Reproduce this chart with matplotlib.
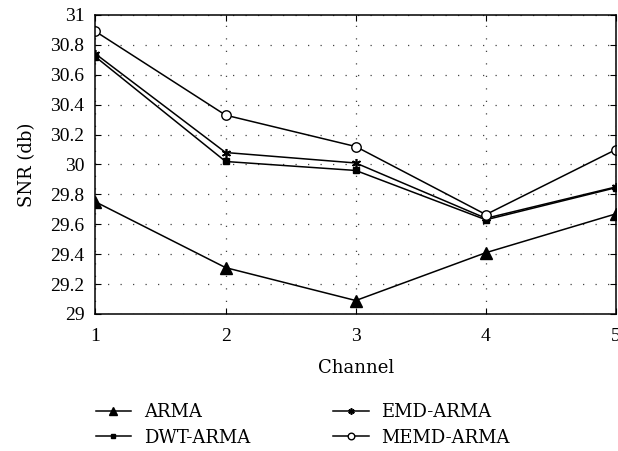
import matplotlib.pyplot as plt
import numpy as np

plt.rcParams['font.family'] = ['Liberation Serif', 'DejaVu Serif']

channels = [1, 2, 3, 4, 5]
arma = [29.75, 29.31, 29.09, 29.41, 29.67]
dwt_arma = [30.72, 30.02, 29.96, 29.63, 29.845]
emd_arma = [30.74, 30.08, 30.01, 29.64, 29.85]
memd_arma = [30.89, 30.33, 30.12, 29.665, 30.10]
ytick_vals = [29, 29.2, 29.4, 29.6, 29.8, 30, 30.2, 30.4, 30.6, 30.8, 31]
ytick_labels = ['29', '29.2', '29.4', '29.6', '29.8', '30', '30.2', '30.4', '30.6', '30.8', '31']

word_font = {'family': 'DejaVu Serif', 'size': 13}

fig = plt.figure(figsize=(6.18, 4.51), dpi=100)
ax = fig.add_axes([0.1545, 0.3038, 0.8423, 0.663])

lw = 1.1
h1, = ax.plot(channels, arma, color='black', lw=lw, marker='^', markersize=8, label='ARMA')
h2, = ax.plot(channels, dwt_arma, color='black', lw=lw, marker='s', markersize=4.8, label='DWT-ARMA')
h3, = ax.plot(channels, emd_arma, color='black', lw=lw, marker=(6, 2, 0), markersize=6.5, markeredgewidth=1.2, label='EMD-ARMA')
h4, = ax.plot(channels, memd_arma, color='black', lw=lw, marker='o', markersize=6.8, markerfacecolor='white', label='MEMD-ARMA')

ax.set_xlim(1, 5)
ax.set_ylim(29, 31)
ax.set_xticks(channels)
ax.set_yticks(ytick_vals)
ax.set_yticklabels(ytick_labels)
ax.tick_params(direction='in', top=True, right=True, labelsize=14, length=4, width=0.8)
ax.tick_params(axis='y', pad=8)
ax.tick_params(axis='x', pad=10)
ax.grid(True, color='#444444', linestyle=(0, (1, 9)), linewidth=0.9)
for s in ax.spines.values():
    s.set_linewidth(1.1)

ax.set_xlabel('Channel', fontdict=word_font, labelpad=10)
ax.set_ylabel('SNR (db)', fontdict=word_font, labelpad=10)

fig.legend(handles=[h1, h2, h3, h4], ncol=2, loc='upper left', bbox_to_anchor=(0.155, 0.106),
           frameon=False, prop=word_font, handlelength=1.95, handletextpad=0.72, columnspacing=4.6,
           markerscale=0.7, labelspacing=0.42, borderaxespad=0, borderpad=0)

fig.savefig('out.png', dpi=100)
